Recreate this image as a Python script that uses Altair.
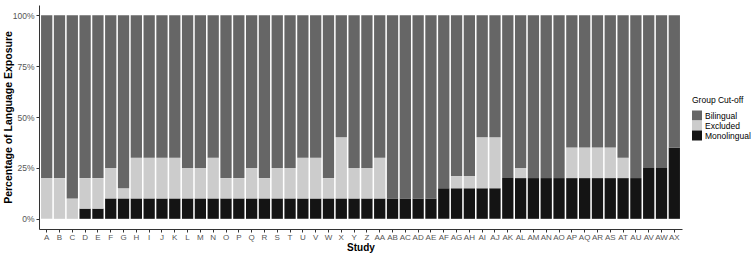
import altair as alt
import pandas as pd

studies = ["A","B","C","D","E","F","G","H","I","J","K","L","M","N","O","P","Q","R","S","T",
           "U","V","W","X","Y","Z","AA","AB","AC","AD","AE","AF","AG","AH","AI","AJ","AK","AL",
           "AM","AN","AO","AP","AQ","AR","AS","AT","AU","AV","AW","AX"]
monolingual = [0,0,0,5,5,10,10,10,10,10,10,10,10,10,10,10,10,10,10,10,
               10,10,10,10,10,10,10,10,10,10,10,15,15,15,15,15,20,20,
               20,20,20,20,20,20,20,20,20,25,25,35]
excluded_top = [20,20,10,20,20,25,15,30,30,30,30,25,25,30,20,20,25,20,25,25,
                30,30,20,40,25,25,30,10,10,10,10,15,21,21,40,40,20,25,
                20,20,20,35,35,35,35,30,20,25,25,35]
groups = ["Bilingual", "Excluded", "Monolingual"]
colors = ["#666666", "#cccccc", "#141414"]

rows = []
for s, m, e in zip(studies, monolingual, excluded_top):
    rows.append({"Study": s, "Group": "Monolingual", "value": m, "ord": 0})
    rows.append({"Study": s, "Group": "Excluded", "value": e - m, "ord": 1})
    rows.append({"Study": s, "Group": "Bilingual", "value": 100 - e, "ord": 2})
df = pd.DataFrame(rows)

font = "Liberation Sans"
chart = alt.Chart(df).mark_bar(stroke=None).encode(
    x=alt.X("Study:N", sort=studies, title="Study",
            scale=alt.Scale(paddingInner=0.12, paddingOuter=0.16),
            axis=alt.Axis(labelAngle=0, labelFontSize=8, labelColor="#555555",
                          labelFont=font, titleFont=font, titleFontSize=10,
                          titleFontWeight="bold", titleColor="#000000", titlePadding=1,
                          domainColor="#333333", tickColor="#333333", tickSize=3,
                          labelPadding=1, grid=False)),
    y=alt.Y("value:Q", stack="zero", title="Percentage of Language Exposure",
            scale=alt.Scale(domain=[-5, 105], nice=False, zero=False),
            axis=alt.Axis(values=[0, 25, 50, 75, 100], labelExpr="datum.value + '%'",
                          labelFontSize=8.5, labelColor="#555555", labelFont=font,
                          titleFont=font, titleFontSize=10.5, titleFontWeight="bold",
                          titleColor="#000000", domainColor="#333333", tickColor="#333333",
                          tickSize=3, labelPadding=2, grid=False,
                          titleX=-31, titleY=112, titleAngle=-90, titleAlign="center",
                          titleBaseline="middle")),
    color=alt.Color("Group:N", scale=alt.Scale(domain=groups, range=colors),
                    legend=alt.Legend(title="Group Cut-off", orient="none",
                                      legendX=653, legendY=91,
                                      symbolType="square", symbolSize=100,
                                      symbolStrokeWidth=0, titleFont=font, labelFont=font,
                                      titleFontSize=8.5, labelFontSize=8.5,
                                      titleFontWeight="normal", labelColor="#000000",
                                      titleColor="#000000", rowPadding=0, titlePadding=6,
                                      labelOffset=3, symbolOpacity=1)),
    order=alt.Order("ord:Q", sort="ascending"),
).properties(
    width=643, height=224,
    autosize=alt.AutoSizeParams(type="none"),
    padding={"left": 39, "top": 5, "right": 70, "bottom": 24},
).configure_view(stroke=None)

chart.save("out.html", embed_options={"renderer": "svg", "actions": False})
